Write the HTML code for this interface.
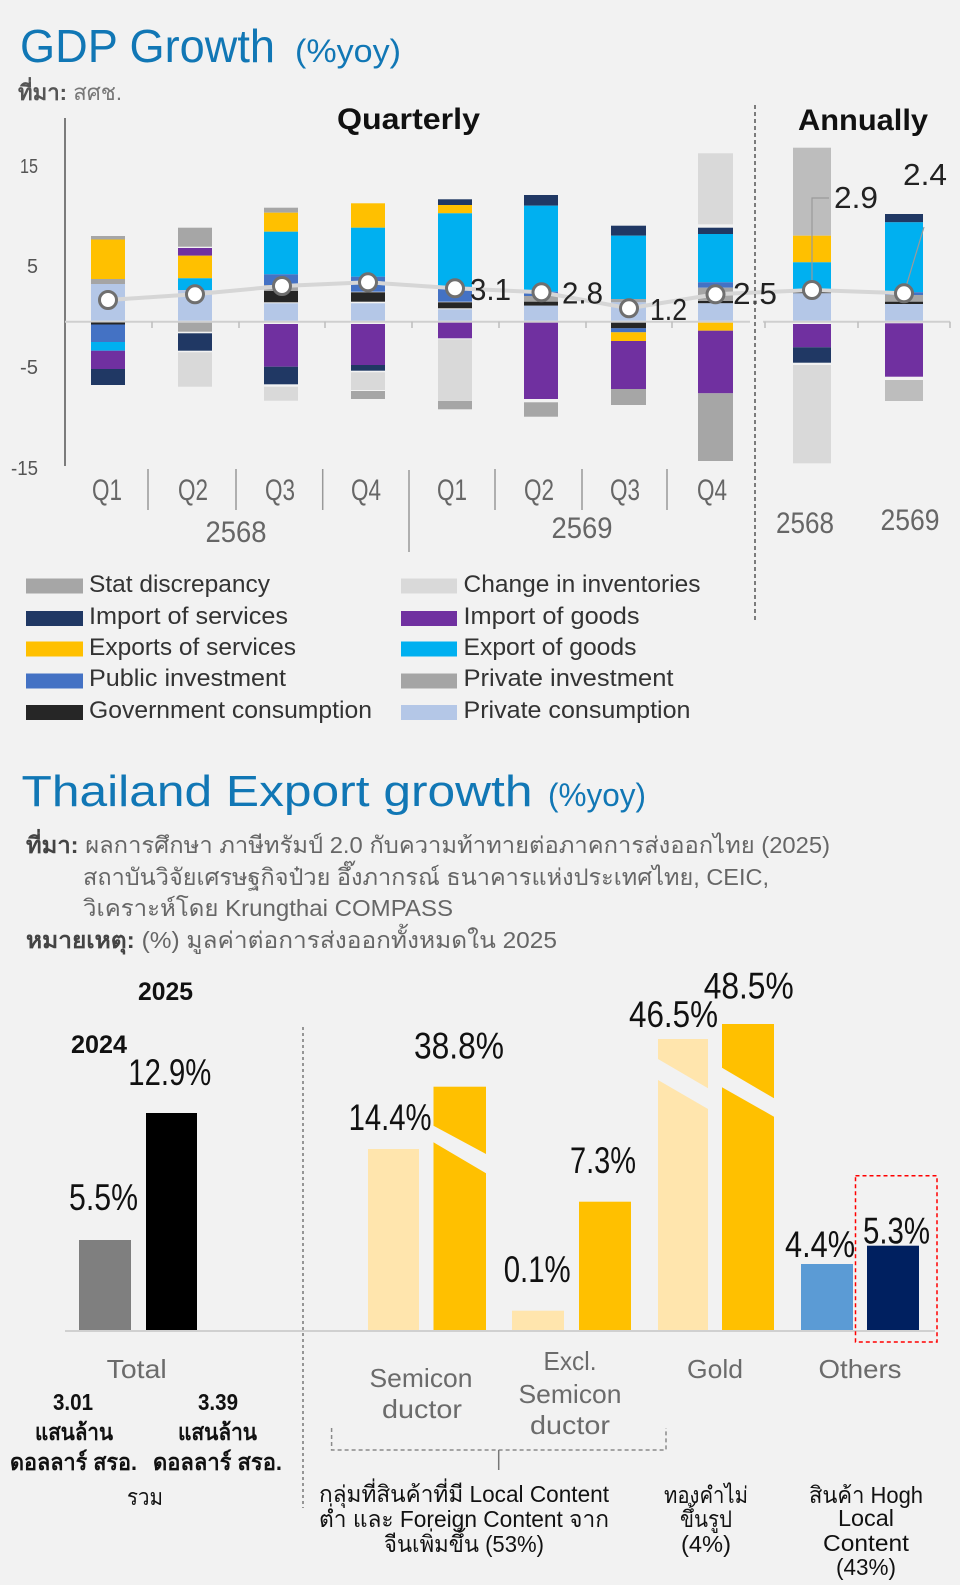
<!DOCTYPE html>
<html><head><meta charset="utf-8"><style>
html,body{margin:0;padding:0;background:#f2f2f2;}
svg{display:block;}
text{font-family:"Liberation Sans","DejaVu Sans","Noto Sans CJK SC",sans-serif;}
</style></head><body>
<svg width="960" height="1585" viewBox="0 0 960 1585" xmlns="http://www.w3.org/2000/svg">
<rect x="0" y="0" width="960" height="1585" fill="#f2f2f2"/>

<!-- ===== GDP header ===== -->
<text x="20" y="62" font-size="46" fill="#1177b5" textLength="255" lengthAdjust="spacingAndGlyphs">GDP Growth</text>
<text x="295" y="62" font-size="32" fill="#1177b5" textLength="106" lengthAdjust="spacingAndGlyphs">(%yoy)</text>
<text x="18" y="100" font-size="22" fill="#777" textLength="104" lengthAdjust="spacingAndGlyphs"><tspan font-weight="bold" fill="#555">ที่มา:</tspan> สศช.</text>
<text x="337" y="129" font-size="30" font-weight="bold" fill="#111" textLength="143" lengthAdjust="spacingAndGlyphs">Quarterly</text>
<text x="798" y="130" font-size="30" font-weight="bold" fill="#111" textLength="130" lengthAdjust="spacingAndGlyphs">Annually</text>

<!-- y axis labels -->
<g font-size="20" fill="#555" text-anchor="end">
<text x="38" y="173" textLength="18" lengthAdjust="spacingAndGlyphs">15</text>
<text x="38" y="273" textLength="11" lengthAdjust="spacingAndGlyphs">5</text>
<text x="38" y="374" textLength="18" lengthAdjust="spacingAndGlyphs">-5</text>
<text x="38" y="475" textLength="27" lengthAdjust="spacingAndGlyphs">-15</text>
</g>
<line x1="65" y1="118" x2="65" y2="466" stroke="#555" stroke-width="1.5"/>

<!-- zero line + ticks -->
<line x1="65" y1="321.7" x2="750" y2="321.7" stroke="#cfcfcf" stroke-width="2"/>
<line x1="763" y1="321.7" x2="950" y2="321.7" stroke="#cfcfcf" stroke-width="2"/>
<g stroke="#bdbdbd" stroke-width="1.5">
<line x1="152" y1="321.7" x2="152" y2="328"/><line x1="239" y1="321.7" x2="239" y2="328"/>
<line x1="325" y1="321.7" x2="325" y2="328"/><line x1="412" y1="321.7" x2="412" y2="328"/>
<line x1="499" y1="321.7" x2="499" y2="328"/><line x1="586" y1="321.7" x2="586" y2="328"/>
<line x1="672" y1="321.7" x2="672" y2="328"/>
<line x1="765" y1="321.7" x2="765" y2="328"/><line x1="858" y1="321.7" x2="858" y2="328"/><line x1="950" y1="321.7" x2="950" y2="328"/>
</g>

<!-- bars -->
<g>
<!-- Q1 2568 -->
<rect x="91" y="236" width="34" height="3.5" fill="#a6a6a6"/>
<rect x="91" y="239.5" width="34" height="39.5" fill="#ffc000"/>
<rect x="91" y="279" width="34" height="5" fill="#a5a5a5"/>
<rect x="91" y="284" width="34" height="36.7" fill="#b4c7e7"/>
<rect x="91" y="322.5" width="34" height="2" fill="#262626"/>
<rect x="91" y="324.5" width="34" height="17.5" fill="#4472c4"/>
<rect x="91" y="342" width="34" height="8.7" fill="#00b0f0"/>
<rect x="91" y="350.7" width="34" height="18.3" fill="#7030a0"/>
<rect x="91" y="369" width="34" height="16" fill="#203864"/>
<!-- Q2 2568 -->
<rect x="178" y="227.7" width="34" height="19" fill="#a6a6a6"/>
<rect x="178" y="248" width="34" height="7.7" fill="#7030a0"/>
<rect x="178" y="255.7" width="34" height="22.6" fill="#ffc000"/>
<rect x="178" y="278.3" width="34" height="11.7" fill="#00b0f0"/>
<rect x="178" y="290" width="34" height="30.7" fill="#b4c7e7"/>
<rect x="178" y="322.7" width="34" height="9" fill="#a5a5a5"/>
<rect x="178" y="333.3" width="34" height="17.4" fill="#203864"/>
<rect x="178" y="352.3" width="34" height="34.4" fill="#d9d9d9"/>
<!-- Q3 2568 -->
<rect x="264" y="207.7" width="34" height="5" fill="#a6a6a6"/>
<rect x="264" y="212.7" width="34" height="19" fill="#ffc000"/>
<rect x="264" y="231.7" width="34" height="42.6" fill="#00b0f0"/>
<rect x="264" y="274.3" width="34" height="10.7" fill="#4472c4"/>
<rect x="264" y="285" width="34" height="6" fill="#a5a5a5"/>
<rect x="264" y="291" width="34" height="11.3" fill="#262626"/>
<rect x="264" y="303.3" width="34" height="17.4" fill="#b4c7e7"/>
<rect x="264" y="324" width="34" height="42.7" fill="#7030a0"/>
<rect x="264" y="366.7" width="34" height="17.6" fill="#203864"/>
<rect x="264" y="386.7" width="34" height="14" fill="#d9d9d9"/>
<!-- Q4 2568 -->
<rect x="351" y="203.3" width="34" height="24.4" fill="#ffc000"/>
<rect x="351" y="227.7" width="34" height="49" fill="#00b0f0"/>
<rect x="351" y="276.7" width="34" height="15" fill="#4472c4"/>
<rect x="351" y="292.3" width="34" height="9.4" fill="#262626"/>
<rect x="351" y="303.3" width="34" height="17.4" fill="#b4c7e7"/>
<rect x="351" y="324" width="34" height="41" fill="#7030a0"/>
<rect x="351" y="365" width="34" height="5.7" fill="#203864"/>
<rect x="351" y="372.3" width="34" height="17.7" fill="#d9d9d9"/>
<rect x="351" y="391" width="34" height="8" fill="#a6a6a6"/>
<!-- Q1 2569 -->
<rect x="438" y="199.3" width="34" height="5.7" fill="#203864"/>
<rect x="438" y="205" width="34" height="8.3" fill="#ffc000"/>
<rect x="438" y="213.3" width="34" height="73.4" fill="#00b0f0"/>
<rect x="438" y="286.7" width="34" height="15" fill="#4472c4"/>
<rect x="438" y="302.3" width="34" height="6" fill="#262626"/>
<rect x="438" y="309.3" width="34" height="11.4" fill="#b4c7e7"/>
<rect x="438" y="322.7" width="34" height="15.6" fill="#7030a0"/>
<rect x="438" y="339.3" width="34" height="60.7" fill="#d9d9d9"/>
<rect x="438" y="400.7" width="34" height="8.6" fill="#a6a6a6"/>
<!-- Q2 2569 -->
<rect x="524" y="195" width="34" height="10.7" fill="#203864"/>
<rect x="524" y="205.7" width="34" height="86" fill="#00b0f0"/>
<rect x="524" y="291.7" width="34" height="4.3" fill="#4472c4"/>
<rect x="524" y="296" width="34" height="5.7" fill="#a5a5a5"/>
<rect x="524" y="301.7" width="34" height="4" fill="#262626"/>
<rect x="524" y="305.7" width="34" height="15" fill="#b4c7e7"/>
<rect x="524" y="322.7" width="34" height="76.3" fill="#7030a0"/>
<rect x="524" y="402.3" width="34" height="14.4" fill="#a6a6a6"/>
<!-- Q3 2569 -->
<rect x="611" y="225.7" width="35" height="10" fill="#203864"/>
<rect x="611" y="235.7" width="35" height="63.3" fill="#00b0f0"/>
<rect x="611" y="299" width="35" height="3.3" fill="#a5a5a5"/>
<rect x="611" y="302.3" width="35" height="18.4" fill="#b4c7e7"/>
<rect x="611" y="322.7" width="35" height="5.6" fill="#262626"/>
<rect x="611" y="328.3" width="35" height="4" fill="#4472c4"/>
<rect x="611" y="332.3" width="35" height="8.7" fill="#ffc000"/>
<rect x="611" y="341" width="35" height="48" fill="#7030a0"/>
<rect x="611" y="389" width="35" height="16" fill="#a6a6a6"/>
<!-- Q4 2569 -->
<rect x="698" y="153.3" width="35" height="71" fill="#d9d9d9"/>
<rect x="698" y="227.7" width="35" height="6.3" fill="#203864"/>
<rect x="698" y="234" width="35" height="48.3" fill="#00b0f0"/>
<rect x="698" y="282.3" width="35" height="5.4" fill="#4472c4"/>
<rect x="698" y="287.7" width="35" height="13.3" fill="#a5a5a5"/>
<rect x="698" y="301" width="35" height="2.3" fill="#262626"/>
<rect x="698" y="303.3" width="35" height="17.4" fill="#b4c7e7"/>
<rect x="698" y="322.7" width="35" height="8" fill="#ffc000"/>
<rect x="698" y="330.7" width="35" height="62.6" fill="#7030a0"/>
<rect x="698" y="393.3" width="35" height="67.7" fill="#a6a6a6"/>
<!-- Annual 2568 -->
<rect x="793" y="147.7" width="38" height="88" fill="#bdbdbd"/>
<rect x="793" y="235.7" width="38" height="26.6" fill="#ffc000"/>
<rect x="793" y="262.3" width="38" height="26.7" fill="#00b0f0"/>
<rect x="793" y="289" width="38" height="4.3" fill="#262626"/>
<rect x="793" y="293.3" width="38" height="27.4" fill="#b4c7e7"/>
<rect x="793" y="324" width="38" height="23.3" fill="#7030a0"/>
<rect x="793" y="347.3" width="38" height="15.4" fill="#203864"/>
<rect x="793" y="365" width="38" height="98.3" fill="#d9d9d9"/>
<!-- Annual 2569 -->
<rect x="885" y="214" width="38" height="8.3" fill="#203864"/>
<rect x="885" y="222.3" width="38" height="70" fill="#00b0f0"/>
<rect x="885" y="292.3" width="38" height="2.7" fill="#4472c4"/>
<rect x="885" y="295" width="38" height="6.7" fill="#a5a5a5"/>
<rect x="885" y="301.7" width="38" height="2.3" fill="#262626"/>
<rect x="885" y="304" width="38" height="16.7" fill="#b4c7e7"/>
<rect x="885" y="323.3" width="38" height="53.4" fill="#7030a0"/>
<rect x="885" y="380" width="38" height="21" fill="#bdbdbd"/>
</g>

<!-- GDP line -->
<polyline points="108,300 195,294.3 282,286 368,282.3 455,288.3 541.5,292.3 629,308.3 715.5,294.3 812,290 904,293.3" fill="none" stroke="#d6d6d6" stroke-width="4"/>
<!-- leaders -->
<polyline points="812,290 812,198 829,198" fill="none" stroke="#9a9a9a" stroke-width="1.2"/>
<line x1="904" y1="293.3" x2="924" y2="227" stroke="#9a9a9a" stroke-width="1.2"/>
<g fill="#fff" stroke="#6f6f6f" stroke-width="3">
<circle cx="108" cy="300" r="8.5"/><circle cx="195" cy="294.3" r="8.5"/><circle cx="282" cy="286" r="8.5"/>
<circle cx="368" cy="282.3" r="8.5"/><circle cx="455" cy="288.3" r="8.5"/><circle cx="541.5" cy="292.3" r="8.5"/>
<circle cx="629" cy="308.3" r="8.5"/><circle cx="715.5" cy="294.3" r="8.5"/><circle cx="812" cy="290" r="8.5"/>
<circle cx="904" cy="293.3" r="8.5"/>
</g>
<g font-size="31" fill="#222">
<text x="470" y="300" textLength="41" lengthAdjust="spacingAndGlyphs">3.1</text>
<text x="562" y="303.5" textLength="41" lengthAdjust="spacingAndGlyphs">2.8</text>
<text x="650" y="320" textLength="37" lengthAdjust="spacingAndGlyphs">1.2</text>
<text x="733" y="304" textLength="44" lengthAdjust="spacingAndGlyphs">2.5</text>
<text x="834" y="208" textLength="44" lengthAdjust="spacingAndGlyphs">2.9</text>
<text x="903" y="185" textLength="44" lengthAdjust="spacingAndGlyphs">2.4</text>
</g>

<!-- dashed separator -->
<line x1="755" y1="105" x2="755" y2="620" stroke="#555" stroke-width="1.5" stroke-dasharray="4,3"/>

<!-- category axis -->
<g stroke="#999" stroke-width="1.5">
<line x1="148" y1="469" x2="148" y2="510"/><line x1="236" y1="469" x2="236" y2="510"/>
<line x1="322.7" y1="469" x2="322.7" y2="510"/><line x1="409" y1="470" x2="409" y2="552"/>
<line x1="495" y1="469" x2="495" y2="510"/><line x1="582" y1="469" x2="582" y2="510"/>
<line x1="667" y1="469" x2="667" y2="510"/>
</g>
<g font-size="30" fill="#666" text-anchor="middle">
<text x="107" y="500" textLength="30" lengthAdjust="spacingAndGlyphs">Q1</text>
<text x="193" y="500" textLength="30" lengthAdjust="spacingAndGlyphs">Q2</text>
<text x="280" y="500" textLength="30" lengthAdjust="spacingAndGlyphs">Q3</text>
<text x="366" y="500" textLength="30" lengthAdjust="spacingAndGlyphs">Q4</text>
<text x="452" y="500" textLength="30" lengthAdjust="spacingAndGlyphs">Q1</text>
<text x="539" y="500" textLength="30" lengthAdjust="spacingAndGlyphs">Q2</text>
<text x="625" y="500" textLength="30" lengthAdjust="spacingAndGlyphs">Q3</text>
<text x="712" y="500" textLength="30" lengthAdjust="spacingAndGlyphs">Q4</text>
<text x="236" y="542" textLength="61" lengthAdjust="spacingAndGlyphs">2568</text>
<text x="582" y="538" textLength="61" lengthAdjust="spacingAndGlyphs">2569</text>
<text x="805" y="533" textLength="58" lengthAdjust="spacingAndGlyphs">2568</text>
<text x="910" y="530" textLength="59" lengthAdjust="spacingAndGlyphs">2569</text>
</g>

<!-- legend -->
<g>
<rect x="26" y="578.5" width="57" height="15" fill="#a6a6a6"/>
<rect x="26" y="611" width="57" height="15" fill="#203864"/>
<rect x="26" y="641.5" width="57" height="15" fill="#ffc000"/>
<rect x="26" y="673.5" width="57" height="15" fill="#4472c4"/>
<rect x="26" y="705" width="57" height="15" fill="#262626"/>
<rect x="401" y="578.5" width="56" height="15" fill="#d9d9d9"/>
<rect x="401" y="611" width="56" height="15" fill="#7030a0"/>
<rect x="401" y="641.5" width="56" height="15" fill="#00b0f0"/>
<rect x="401" y="673.5" width="56" height="15" fill="#a5a5a5"/>
<rect x="401" y="705" width="56" height="15" fill="#b4c7e7"/>
</g>
<g font-size="24" fill="#333">
<text x="89" y="592" textLength="181" lengthAdjust="spacingAndGlyphs">Stat discrepancy</text>
<text x="89" y="624" textLength="199" lengthAdjust="spacingAndGlyphs">Import of services</text>
<text x="89" y="655" textLength="207" lengthAdjust="spacingAndGlyphs">Exports of services</text>
<text x="89" y="686" textLength="197" lengthAdjust="spacingAndGlyphs">Public investment</text>
<text x="89" y="718" textLength="283" lengthAdjust="spacingAndGlyphs">Government consumption</text>
<text x="463.5" y="592" textLength="237" lengthAdjust="spacingAndGlyphs">Change in inventories</text>
<text x="463.5" y="624" textLength="176" lengthAdjust="spacingAndGlyphs">Import of goods</text>
<text x="463.5" y="655" textLength="173" lengthAdjust="spacingAndGlyphs">Export of goods</text>
<text x="463.5" y="686" textLength="210" lengthAdjust="spacingAndGlyphs">Private investment</text>
<text x="463.5" y="718" textLength="227" lengthAdjust="spacingAndGlyphs">Private consumption</text>
</g>

<!-- ===== Export header ===== -->
<text x="21.5" y="806" font-size="44" fill="#1177b5" textLength="511" lengthAdjust="spacingAndGlyphs">Thailand Export growth</text>
<text x="548" y="806" font-size="32" fill="#1177b5" textLength="98" lengthAdjust="spacingAndGlyphs">(%yoy)</text>
<g font-size="23" fill="#666">
<text x="26" y="853" textLength="804" lengthAdjust="spacingAndGlyphs"><tspan font-weight="bold" fill="#444">ที่มา:</tspan> ผลการศึกษา ภาษีทรัมป์ 2.0 กับความท้าทายต่อภาคการส่งออกไทย (2025)</text>
<text x="83" y="885" textLength="686" lengthAdjust="spacingAndGlyphs">สถาบันวิจัยเศรษฐกิจป๋วย อึ๊งภากรณ์ ธนาคารแห่งประเทศไทย, CEIC,</text>
<text x="83" y="916" textLength="370" lengthAdjust="spacingAndGlyphs">วิเคราะห์โดย Krungthai COMPASS</text>
<text x="26" y="948" textLength="531" lengthAdjust="spacingAndGlyphs"><tspan font-weight="bold" fill="#444">หมายเหตุ:</tspan> (%) มูลค่าต่อการส่งออกทั้งหมดใน 2025</text>
</g>

<!-- left chart -->
<text x="165.5" y="1000" font-size="25" font-weight="bold" fill="#111" text-anchor="middle" textLength="55" lengthAdjust="spacingAndGlyphs">2025</text>
<text x="99" y="1053" font-size="25" font-weight="bold" fill="#111" text-anchor="middle" textLength="56" lengthAdjust="spacingAndGlyphs">2024</text>
<rect x="79" y="1240" width="52" height="91" fill="#7f7f7f"/>
<rect x="146" y="1113" width="51" height="218" fill="#000"/>

<!-- right chart bars -->
<rect x="368" y="1149" width="51" height="182" fill="#ffe5ad"/>
<rect x="433.5" y="1086.7" width="52.5" height="244.3" fill="#ffc000"/>
<polygon points="433.5,1125.7 486,1154 486,1173.3 433.5,1142.3" fill="#f2f2f2"/>
<rect x="512" y="1310.7" width="52" height="20.3" fill="#ffe5ad"/>
<rect x="579" y="1201.7" width="52" height="129.3" fill="#ffc000"/>
<rect x="658" y="1039" width="50" height="292" fill="#ffe5ad"/>
<polygon points="658,1059 708,1088.3 708,1109 658,1080" fill="#f2f2f2"/>
<rect x="722" y="1024" width="52" height="307" fill="#ffc000"/>
<polygon points="722,1067.7 774,1098.3 774,1116.7 722,1087.3" fill="#f2f2f2"/>
<rect x="801" y="1264" width="52" height="67" fill="#5b9bd5"/>
<rect x="867" y="1245.7" width="52" height="85.3" fill="#002060"/>

<line x1="65" y1="1331" x2="935" y2="1331" stroke="#d0d0d0" stroke-width="2"/>
<rect x="855.5" y="1175.7" width="81.5" height="166.3" fill="none" stroke="#ff0000" stroke-width="1.5" stroke-dasharray="4,3"/>
<line x1="303" y1="1027" x2="303" y2="1508" stroke="#777" stroke-width="1.5" stroke-dasharray="3,3"/>
<path d="M331.6 1428 V1450 H666 V1428" fill="none" stroke="#8a8a8a" stroke-width="1.5" stroke-dasharray="4,3"/>
<line x1="498.7" y1="1450" x2="498.7" y2="1470" stroke="#777" stroke-width="1.5"/>

<!-- value labels -->
<g font-size="37" fill="#111">
<text x="128.3" y="1085" textLength="83" lengthAdjust="spacingAndGlyphs">12.9%</text>
<text x="69" y="1210" textLength="69" lengthAdjust="spacingAndGlyphs">5.5%</text>
<text x="348.6" y="1130" textLength="83" lengthAdjust="spacingAndGlyphs">14.4%</text>
<text x="414" y="1058.5" textLength="90" lengthAdjust="spacingAndGlyphs">38.8%</text>
<text x="503.7" y="1282" textLength="67" lengthAdjust="spacingAndGlyphs">0.1%</text>
<text x="570" y="1173" textLength="66" lengthAdjust="spacingAndGlyphs">7.3%</text>
<text x="629" y="1027" textLength="89" lengthAdjust="spacingAndGlyphs">46.5%</text>
<text x="703.7" y="998.5" textLength="90" lengthAdjust="spacingAndGlyphs">48.5%</text>
<text x="785" y="1257" textLength="70" lengthAdjust="spacingAndGlyphs">4.4%</text>
<text x="863" y="1243.5" textLength="67" lengthAdjust="spacingAndGlyphs">5.3%</text>
</g>

<!-- category labels -->
<g font-size="26" fill="#6b6b6b" text-anchor="middle">
<text x="136.7" y="1378" textLength="60" lengthAdjust="spacingAndGlyphs">Total</text>
<text x="421" y="1387" textLength="103" lengthAdjust="spacingAndGlyphs">Semicon</text>
<text x="422" y="1418" textLength="80" lengthAdjust="spacingAndGlyphs">ductor</text>
<text x="570" y="1370" textLength="53" lengthAdjust="spacingAndGlyphs">Excl.</text>
<text x="570" y="1403" textLength="103" lengthAdjust="spacingAndGlyphs">Semicon</text>
<text x="570" y="1434" textLength="80" lengthAdjust="spacingAndGlyphs">ductor</text>
<text x="715" y="1378" textLength="56" lengthAdjust="spacingAndGlyphs">Gold</text>
<text x="860" y="1378" textLength="83" lengthAdjust="spacingAndGlyphs">Others</text>
</g>

<!-- bottom notes -->
<g font-size="23" fill="#111" text-anchor="middle">
<text x="73" y="1410" font-weight="bold" textLength="40" lengthAdjust="spacingAndGlyphs">3.01</text>
<text x="74" y="1440" font-weight="bold" textLength="78" lengthAdjust="spacingAndGlyphs">แสนล้าน</text>
<text x="73.5" y="1470" font-weight="bold" textLength="127" lengthAdjust="spacingAndGlyphs">ดอลลาร์ สรอ.</text>
<text x="218" y="1410" font-weight="bold" textLength="40" lengthAdjust="spacingAndGlyphs">3.39</text>
<text x="217.5" y="1440" font-weight="bold" textLength="79" lengthAdjust="spacingAndGlyphs">แสนล้าน</text>
<text x="217.5" y="1470" font-weight="bold" textLength="129" lengthAdjust="spacingAndGlyphs">ดอลลาร์ สรอ.</text>
<text x="145" y="1505" textLength="36" lengthAdjust="spacingAndGlyphs">รวม</text>
<text x="464" y="1502" textLength="290" lengthAdjust="spacingAndGlyphs">กลุ่มที่สินค้าที่มี Local Content</text>
<text x="464" y="1527" textLength="290" lengthAdjust="spacingAndGlyphs">ต่ำ และ Foreign Content จาก</text>
<text x="464" y="1552" textLength="160" lengthAdjust="spacingAndGlyphs">จีนเพิ่มขึ้น (53%)</text>
<text x="706" y="1503" textLength="84" lengthAdjust="spacingAndGlyphs">ทองคำไม่</text>
<text x="706" y="1527" textLength="52" lengthAdjust="spacingAndGlyphs">ขึ้นรูป</text>
<text x="706" y="1552" textLength="50" lengthAdjust="spacingAndGlyphs">(4%)</text>
<text x="866" y="1503" textLength="114" lengthAdjust="spacingAndGlyphs">สินค้า Hogh</text>
<text x="866" y="1526" textLength="56" lengthAdjust="spacingAndGlyphs">Local</text>
<text x="866" y="1551" textLength="86" lengthAdjust="spacingAndGlyphs">Content</text>
<text x="866" y="1575" textLength="60" lengthAdjust="spacingAndGlyphs">(43%)</text>
</g>
</svg>
</body></html>
